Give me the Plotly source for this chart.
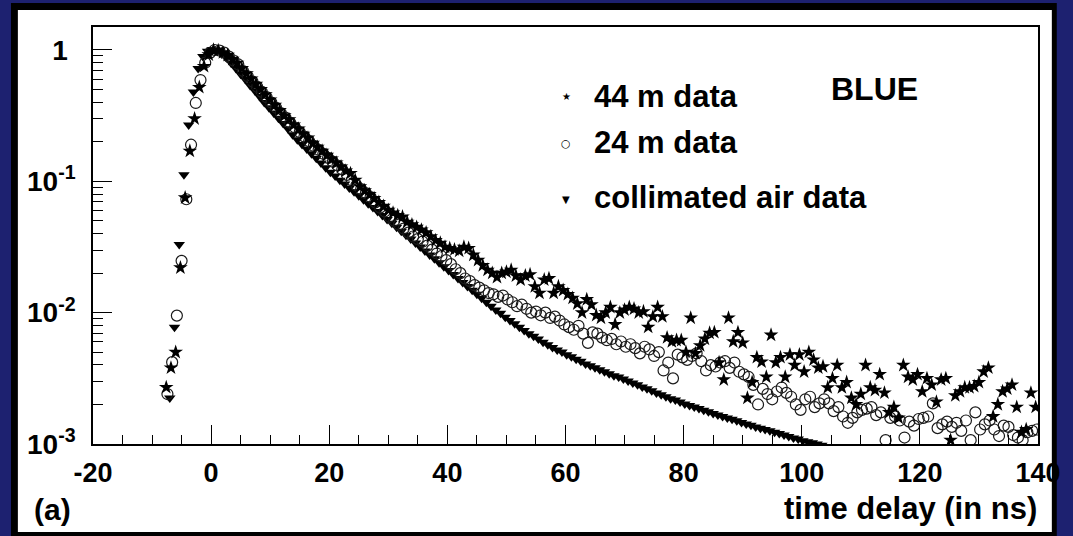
import plotly.graph_objects as go

# ---------------- data ----------------
BIN_NS = 0.8                      # time-bin width of the histograms (ns)
air_t0 = -7.0                     # first bin centre, collimated air data
m24_t0 = -7.4                     # first bin centre, 24 m data
m44_t0 = -7.6                     # first bin centre, 44 m data

air_vals = [
    0.00224, 0.00776, 0.0331, 0.112, 0.269, 0.479, 0.724, 0.891, 0.977, 1.0,
    0.989, 0.933, 0.871, 0.794, 0.724, 0.653, 0.596, 0.537, 0.490, 0.442,
    0.398, 0.363, 0.331, 0.302, 0.275, 0.251, 0.226, 0.207, 0.191, 0.176,
    0.162, 0.150, 0.138, 0.127, 0.117, 0.110, 0.102, 0.0955, 0.0891, 0.0832,
    0.0776, 0.0724, 0.0676, 0.0631, 0.0589, 0.0550, 0.0513, 0.0479, 0.0447, 0.0417,
    0.0389, 0.0363, 0.0339, 0.0316, 0.0295, 0.0275, 0.0257, 0.0240, 0.0224, 0.0209,
    0.0195, 0.0182, 0.0170, 0.0158, 0.0148, 0.0138, 0.0129, 0.0120, 0.0112, 0.0105,
    0.00989, 0.00923, 0.00871, 0.00822, 0.00776, 0.00733, 0.00692, 0.00661, 0.00631, 0.00596,
    0.00569, 0.00543, 0.00519, 0.00501, 0.00479, 0.00462, 0.00442, 0.00427, 0.00407, 0.00394,
    0.00380, 0.00367, 0.00355, 0.00343, 0.00331, 0.00324, 0.00313, 0.00302, 0.00292, 0.00282,
    0.00272, 0.00263, 0.00254, 0.00245, 0.00237, 0.00229, 0.00221, 0.00216, 0.00209, 0.00202,
    0.00196, 0.00191, 0.00186, 0.00181, 0.00176, 0.00171, 0.00166, 0.00162, 0.00158, 0.00154,
    0.00150, 0.00146, 0.00142, 0.00139, 0.00135, 0.00132, 0.00129, 0.00126, 0.00123, 0.00120,
    0.00117, 0.00114, 0.00111, 0.00109, 0.00106, 0.00104, 0.00102, 0.00100, 0.00098,
]

m24_vals = [
    0.0024, 0.0042, 0.0095, 0.0248, 0.073, 0.19, 0.395, 0.59, 0.80, 0.95, 1.0, 0.99,
    0.955, 0.891, 0.832, 0.776, 0.692, 0.631, 0.575, 0.525, 0.479, 0.437,
    0.398, 0.363, 0.331, 0.305, 0.279, 0.257, 0.237, 0.219, 0.202, 0.186,
    0.174, 0.162, 0.151, 0.141, 0.132, 0.123, 0.112, 0.102, 0.0933, 0.0871,
    0.0813, 0.0759, 0.0692, 0.0631, 0.0589, 0.0537, 0.0501, 0.0468, 0.0437, 0.0407,
    0.0380, 0.0363, 0.0347, 0.0324, 0.0302, 0.0282, 0.0269, 0.0251, 0.0234, 0.0214,
    0.0200, 0.0182, 0.0174, 0.0162, 0.0155, 0.0148, 0.0141, 0.0138, 0.0132, 0.0135,
    0.0126, 0.0120, 0.0112, 0.0115, 0.0107, 0.0100, 0.0102, 0.00955, 0.0100, 0.00912,
    0.00933, 0.00871, 0.00813, 0.00776, 0.00741, 0.00794, 0.00692, 0.00589, 0.00708, 0.00692,
    0.00646, 0.00617, 0.00631, 0.00575, 0.00603, 0.00550, 0.00575, 0.00537, 0.00490, 0.00550,
    0.00525, 0.00468, 0.00501, 0.00363, 0.00417, 0.00316, 0.00479, 0.00457, 0.00437, 0.00468,
    0.00490, 0.00427, 0.00363, 0.00398, 0.00389, 0.00417, 0.00427, 0.00380, 0.00417, 0.00355,
    0.00339, 0.00324, 0.00282, 0.00200, 0.00263, 0.00240, 0.00219, 0.00251, 0.00269, 0.00245,
    0.00229, 0.00200, 0.00182, 0.00219, 0.00229, 0.00191, 0.00204, 0.00219, 0.00204, 0.00178,
    0.00191, 0.00162, 0.00145, 0.00158, 0.00174, 0.00182, 0.00186, 0.00191, 0.00166, 0.00174,
    0.00107, 0.00158, 0.00162, 0.00151, 0.00112, 0.00148, 0.00138, 0.00155, 0.00158, 0.00162,
    0.00204, 0.00132, 0.00141, 0.00148, 0.00135, 0.00145, 0.00126, 0.00151, 0.00107, 0.00174,
    0.00129, 0.00141, 0.00151, 0.00129, 0.00115, 0.00138, 0.00135, 0.00117, 0.00112, 0.00107,
    0.00123, 0.00126, 0.00129,
]

m44_vals = [
    0.0027, 0.0038, 0.0050, 0.022, 0.075, 0.17, 0.30, 0.52, 0.75, 0.92, 1.0, 0.99,
    0.955, 0.912, 0.851, 0.794, 0.724, 0.661, 0.603, 0.550, 0.501, 0.457,
    0.417, 0.380, 0.347, 0.316, 0.295, 0.269, 0.251, 0.229, 0.214, 0.195,
    0.182, 0.170, 0.158, 0.148, 0.138, 0.129, 0.120, 0.115, 0.102, 0.0912,
    0.0851, 0.0794, 0.0741, 0.0692, 0.0646, 0.0603, 0.0575, 0.0550, 0.0537, 0.0490,
    0.0468, 0.0447, 0.0427, 0.0407, 0.0380, 0.0355, 0.0339, 0.0316, 0.0309, 0.0302,
    0.0295, 0.0316, 0.0309, 0.0275, 0.0251, 0.0229, 0.0211, 0.0200, 0.0186, 0.0200,
    0.0204, 0.0211, 0.0191, 0.0178, 0.0191, 0.0195, 0.0158, 0.0141, 0.0178, 0.0182,
    0.0141, 0.0158, 0.0148, 0.0138, 0.0129, 0.0117, 0.0100, 0.0126, 0.0115, 0.00955,
    0.00912, 0.0100, 0.0110, 0.00813, 0.0100, 0.0105, 0.0110, 0.0107, 0.0100, 0.0102,
    0.00776, 0.00933, 0.0110, 0.00933, 0.00646, 0.00603, 0.00617, 0.00617, 0.00501, 0.00912,
    0.00490, 0.00562, 0.00631, 0.00700, 0.00708, 0.00417, 0.00309, 0.00912, 0.00603, 0.00708,
    0.00589, 0.00224, 0.00295, 0.00457, 0.00422, 0.00324, 0.00676, 0.00417, 0.00457, 0.00324,
    0.00479, 0.00398, 0.00479, 0.00355, 0.00501, 0.00437, 0.00380, 0.00389, 0.00269, 0.00316,
    0.00398, 0.00269, 0.00295, 0.00224, 0.00200, 0.00240, 0.00398, 0.00269, 0.00257, 0.00339,
    0.00245, 0.00174, 0.00191, 0.00158, 0.00398, 0.00324, 0.00309, 0.00339, 0.00251, 0.00316,
    0.00282, 0.00209, 0.00309, 0.00316, 0.00107, 0.00234, 0.00251, 0.00269, 0.00269, 0.00275,
    0.00295, 0.00355, 0.00380, 0.00162, 0.00200, 0.00251, 0.00263, 0.00282, 0.00191, 0.00123,
    0.00129, 0.00245, 0.00191,
]

x_tickvals = [-20, 0, 20, 40, 60, 80, 100, 120, 140]
y_tickvals = [0.001, 0.01, 0.1, 1]
y_ticktext = ["10<sup>-3</sup>", "10<sup>-2</sup>", "10<sup>-1</sup>", "1\u00a0"]

legend_labels = ["44 m data", "24 m data", "collimated air data"]
panel_label = "BLUE"
x_title = "time delay (in ns)"
fig_label = "(a)"


def bin_centres(t0, n):
    return [round(t0 + BIN_NS * i, 2) for i in range(n)]


# ---------------- figure ----------------
W, H = 1073, 536
L, R, T, B = 93, 24, 27, 92
PW, PH = W - L - R, H - T - B


def px(x):
    return (x - L) / PW


def py(y):
    return (H - B - y) / PH


FONT = "Liberation Sans, Arial, Helvetica, sans-serif"

fig = go.Figure()
fig.add_trace(go.Scatter(
    x=bin_centres(air_t0, len(air_vals)), y=air_vals, mode="markers",
    name=legend_labels[2],
    marker=dict(symbol="triangle-down", size=10, color="black", line=dict(width=0)),
))
fig.add_trace(go.Scatter(
    x=bin_centres(m24_t0, len(m24_vals)), y=m24_vals, mode="markers",
    name=legend_labels[1],
    marker=dict(symbol="circle-open", size=11, color="#1a1a1a", line=dict(width=1.2)),
))
fig.add_trace(go.Scatter(
    x=bin_centres(m44_t0, len(m44_vals)), y=m44_vals, mode="markers",
    name=legend_labels[0],
    marker=dict(symbol="star", size=11, color="black", line=dict(width=0)),
))

minor_y = [m * 10 ** e for e in (-3, -2, -1) for m in range(2, 10)]

fig.update_layout(
    width=W, height=H,
    margin=dict(l=L, r=R, t=T, b=B),
    paper_bgcolor="#1d2170",
    plot_bgcolor="white",
    showlegend=False,
    font=dict(family=FONT, color="black", size=27),
    xaxis=dict(
        range=[-20, 140],
        tickmode="array", tickvals=x_tickvals,
        ticktext=[f"<b>{v}</b>" for v in x_tickvals],
        ticks="inside", ticklen=19, tickwidth=1, tickcolor="black",
        showline=True, linecolor="black", linewidth=1.5, mirror=True,
        showgrid=False, zeroline=False,
        tickfont=dict(family=FONT, size=27, color="black"),
        ticklabelstandoff=4,
        minor=dict(dtick=5, tick0=0, ticks="inside", ticklen=9, tickwidth=1,
                   tickcolor="black", showgrid=False),
    ),
    yaxis=dict(
        type="log", range=[-3, 0.175],
        tickmode="array", tickvals=y_tickvals,
        ticktext=[f"<b>{t}</b>" for t in y_ticktext],
        ticks="inside", ticklen=19, tickwidth=1, tickcolor="black",
        showline=True, linecolor="black", linewidth=1.5, mirror=True,
        showgrid=False, zeroline=False,
        tickfont=dict(family=FONT, size=28, color="black"),
        ticklabelstandoff=10,
        minor=dict(tickmode="array", tickvals=minor_y, ticks="inside", ticklen=10,
                   tickwidth=1, tickcolor="black", showgrid=False),
    ),
)

# slide panel: black frame and white card behind the plot
fig.add_shape(type="rect", xref="paper", yref="paper", layer="below",
              x0=px(10), x1=px(1068), y0=py(545), y1=py(3),
              fillcolor="black", line=dict(width=0))
fig.add_shape(type="rect", xref="paper", yref="paper", layer="below",
              x0=px(17), x1=px(1063), y0=py(532), y1=py(10),
              fillcolor="white", line=dict(width=0))

ann = []
# legend text
for lab, yc in zip(legend_labels, [97, 142, 197]):
    ann.append(dict(text=f"<b>{lab}</b>", x=px(598), y=py(yc), xref="paper", yref="paper",
                    xanchor="left", yanchor="middle", showarrow=False,
                    font=dict(family=FONT, size=31, color="black")))
# legend symbols
for sym, yc, sz in zip(["\u2605", "\u25CB", "\u25BC"], [97, 143, 199], [10, 11, 10]):
    ann.append(dict(text=sym, x=px(572), y=py(yc), xref="paper", yref="paper",
                    xanchor="center", yanchor="middle", showarrow=False,
                    font=dict(family="DejaVu Sans", size=sz, color="black")))
ann.append(dict(text=f"<b>{panel_label}</b>", x=px(838), y=py(89), xref="paper", yref="paper",
                xanchor="left", yanchor="middle", showarrow=False,
                font=dict(family=FONT, size=32, color="black")))
ann.append(dict(text=f"<b>{x_title}</b>", x=px(1050), y=py(508), xref="paper", yref="paper",
                xanchor="right", yanchor="middle", showarrow=False,
                font=dict(family=FONT, size=31, color="black")))
ann.append(dict(text=f"<b>{fig_label}</b>", x=px(31), y=py(510), xref="paper", yref="paper",
                xanchor="left", yanchor="middle", showarrow=False,
                font=dict(family=FONT, size=30, color="black")))
fig.update_layout(annotations=ann)

fig.write_html("out.html")
